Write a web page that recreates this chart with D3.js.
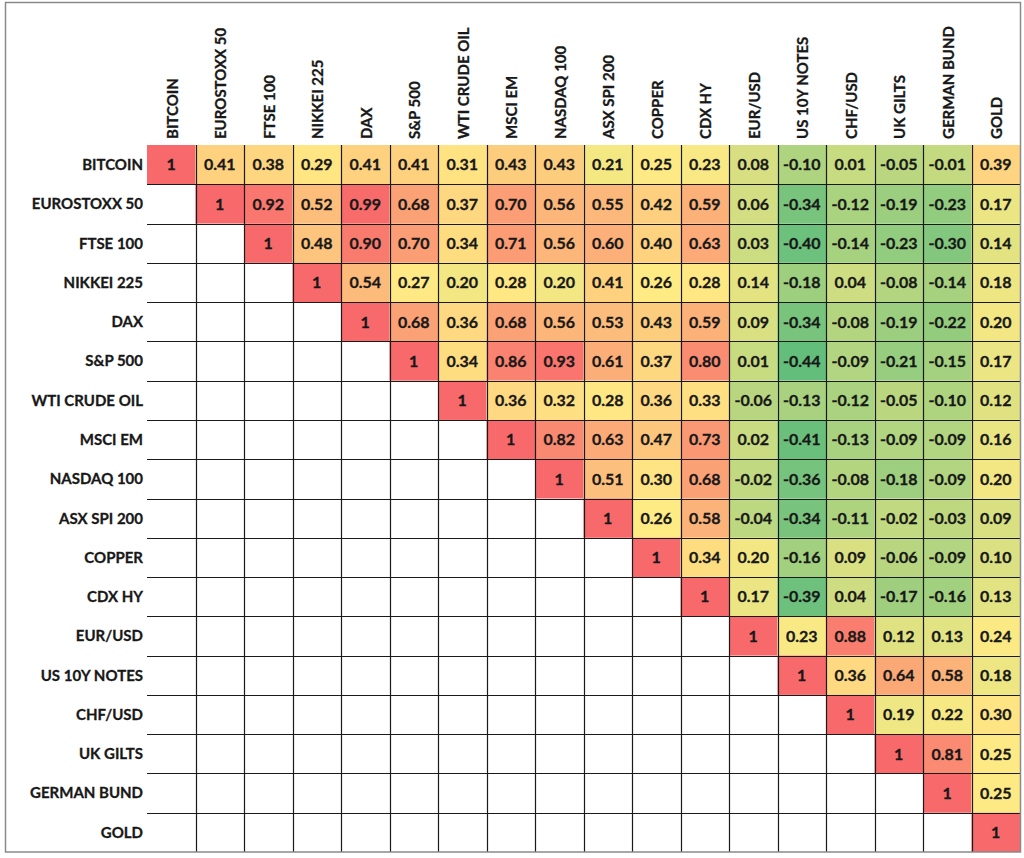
<!DOCTYPE html>
<html>
<head>
<meta charset="utf-8">
<script src="https://cdn.jsdelivr.net/npm/d3@7"></script>
<style>
  html, body { margin: 0; padding: 0; background: #ffffff; }
  svg { display: block; }
  text { font-family: Lato, "Open Sans", sans-serif; font-weight: 700; }
</style>
</head>
<body>
<svg id="chart" width="1024" height="858"></svg>
<script>
// ---- data ----
const assets = ["BITCOIN", "EUROSTOXX 50", "FTSE 100", "NIKKEI 225", "DAX", "S&P 500",
  "WTI CRUDE OIL", "MSCI EM", "NASDAQ 100", "ASX SPI 200", "COPPER", "CDX HY",
  "EUR/USD", "US 10Y NOTES", "CHF/USD", "UK GILTS", "GERMAN BUND", "GOLD"];

// upper triangle, each row starts at the diagonal
const rowBitcoin     = [1, 0.41, 0.38, 0.29, 0.41, 0.41, 0.31, 0.43, 0.43, 0.21, 0.25, 0.23, 0.08, -0.10, 0.01, -0.05, -0.01, 0.39];
const rowEurostoxx   = [1, 0.92, 0.52, 0.99, 0.68, 0.37, 0.70, 0.56, 0.55, 0.42, 0.59, 0.06, -0.34, -0.12, -0.19, -0.23, 0.17];
const rowFtse        = [1, 0.48, 0.90, 0.70, 0.34, 0.71, 0.56, 0.60, 0.40, 0.63, 0.03, -0.40, -0.14, -0.23, -0.30, 0.14];
const rowNikkei      = [1, 0.54, 0.27, 0.20, 0.28, 0.20, 0.41, 0.26, 0.28, 0.14, -0.18, 0.04, -0.08, -0.14, 0.18];
const rowDax         = [1, 0.68, 0.36, 0.68, 0.56, 0.53, 0.43, 0.59, 0.09, -0.34, -0.08, -0.19, -0.22, 0.20];
const rowSp500       = [1, 0.34, 0.86, 0.93, 0.61, 0.37, 0.80, 0.01, -0.44, -0.09, -0.21, -0.15, 0.17];
const rowWti         = [1, 0.36, 0.32, 0.28, 0.36, 0.33, -0.06, -0.13, -0.12, -0.05, -0.10, 0.12];
const rowMsciEm      = [1, 0.82, 0.63, 0.47, 0.73, 0.02, -0.41, -0.13, -0.09, -0.09, 0.16];
const rowNasdaq      = [1, 0.51, 0.30, 0.68, -0.02, -0.36, -0.08, -0.18, -0.09, 0.20];
const rowAsx         = [1, 0.26, 0.58, -0.04, -0.34, -0.11, -0.02, -0.03, 0.09];
const rowCopper      = [1, 0.34, 0.20, -0.16, 0.09, -0.06, -0.09, 0.10];
const rowCdxHy       = [1, 0.17, -0.39, 0.04, -0.17, -0.16, 0.13];
const rowEurUsd      = [1, 0.23, 0.88, 0.12, 0.13, 0.24];
const rowUs10y       = [1, 0.36, 0.64, 0.58, 0.18];
const rowChfUsd      = [1, 0.19, 0.22, 0.30];
const rowUkGilts     = [1, 0.81, 0.25];
const rowGermanBund  = [1, 0.25];
const rowGold        = [1];

const rows = [rowBitcoin, rowEurostoxx, rowFtse, rowNikkei, rowDax, rowSp500, rowWti,
  rowMsciEm, rowNasdaq, rowAsx, rowCopper, rowCdxHy, rowEurUsd, rowUs10y, rowChfUsd,
  rowUkGilts, rowGermanBund, rowGold];

// ---- build cells ----
const cells = [];
rows.forEach((r, i) => r.forEach((v, k) => {
  cells.push({ row: assets[i], col: assets[i + k], value: v, diag: k === 0 });
}));

// ---- layout ----
const svg = d3.select("#chart");
const gridLeft = 147, gridRight = 1020, gridTop = 145, gridBottom = 852;

const x = d3.scaleBand().domain(assets).range([gridLeft, gridRight]).padding(0);
const y = d3.scaleBand().domain(assets).range([gridTop, gridBottom]).padding(0);

const allVals = cells.map(d => d.value);
const vMin = d3.min(allVals), vMax = d3.max(allVals), vMid = d3.quantile(allVals.slice().sort(d3.ascending), 0.5);
const color = d3.scaleLinear()
  .domain([vMin, vMid, vMax])
  .range(["#63BE7B", "#FFEB84", "#F8696B"])
  .interpolate(d3.interpolateRgb);

svg.append("rect").attr("x", 0).attr("y", 0).attr("width", 1024).attr("height", 858).attr("fill", "#fff");

// cells
svg.append("g").selectAll("rect").data(cells).join("rect")
  .attr("x", d => x(d.col))
  .attr("y", d => y(d.row))
  .attr("width", x.bandwidth())
  .attr("height", y.bandwidth())
  .attr("fill", d => color(d.value));

// grid lines
const grid = svg.append("g").attr("stroke", "#1a1a1a").attr("stroke-width", 1.2);
assets.slice(1).forEach(a => {
  const yy = Math.round(y(a)) + 0.5;
  grid.append("line").attr("x1", gridLeft).attr("x2", gridRight).attr("y1", yy).attr("y2", yy);
});
assets.slice(1).forEach(a => {
  const xx = Math.round(x(a)) + 0.5;
  grid.append("line").attr("x1", xx).attr("x2", xx).attr("y1", gridTop).attr("y2", gridBottom);
});

const ink = "#181818";
// value labels
const fmt = d => d === 1 ? "1" : d3.format(".2f")(d).replace("−", "-");
svg.append("g").selectAll("text").data(cells).join("text")
  .attr("x", d => x(d.col) + x.bandwidth() / 2)
  .attr("y", d => y(d.row) + y.bandwidth() / 2)
  .attr("dy", "0.36em")
  .attr("text-anchor", "middle")
  .attr("font-size", 16)
  .attr("fill", ink)
  .attr("stroke", ink)
  .attr("stroke-width", 0.3)
  .text(d => fmt(d.value));

// row labels
svg.append("g").selectAll("text").data(assets).join("text")
  .attr("x", 143)
  .attr("y", d => y(d) + y.bandwidth() / 2)
  .attr("dy", "0.36em")
  .attr("text-anchor", "end")
  .attr("font-size", 15)
  .attr("fill", ink)
  .attr("stroke", ink)
  .attr("stroke-width", 0.3)
  .text(d => d);

// column labels (rotated)
svg.append("g").selectAll("text").data(assets).join("text")
  .attr("transform", d => `translate(${x(d) + x.bandwidth() / 2 + 1},139) rotate(-90)`)
  .attr("dy", "0.36em")
  .attr("text-anchor", "start")
  .attr("font-size", 15)
  .attr("fill", ink)
  .attr("stroke", ink)
  .attr("stroke-width", 0.3)
  .text(d => d);

// outer frame
svg.append("rect")
  .attr("x", 5.5).attr("y", 2.5)
  .attr("width", gridRight - 5)
  .attr("height", gridBottom - 2.5)
  .attr("fill", "none")
  .attr("stroke", "#8a8a8a")
  .attr("stroke-width", 1.5);
</script>
</body>
</html>
